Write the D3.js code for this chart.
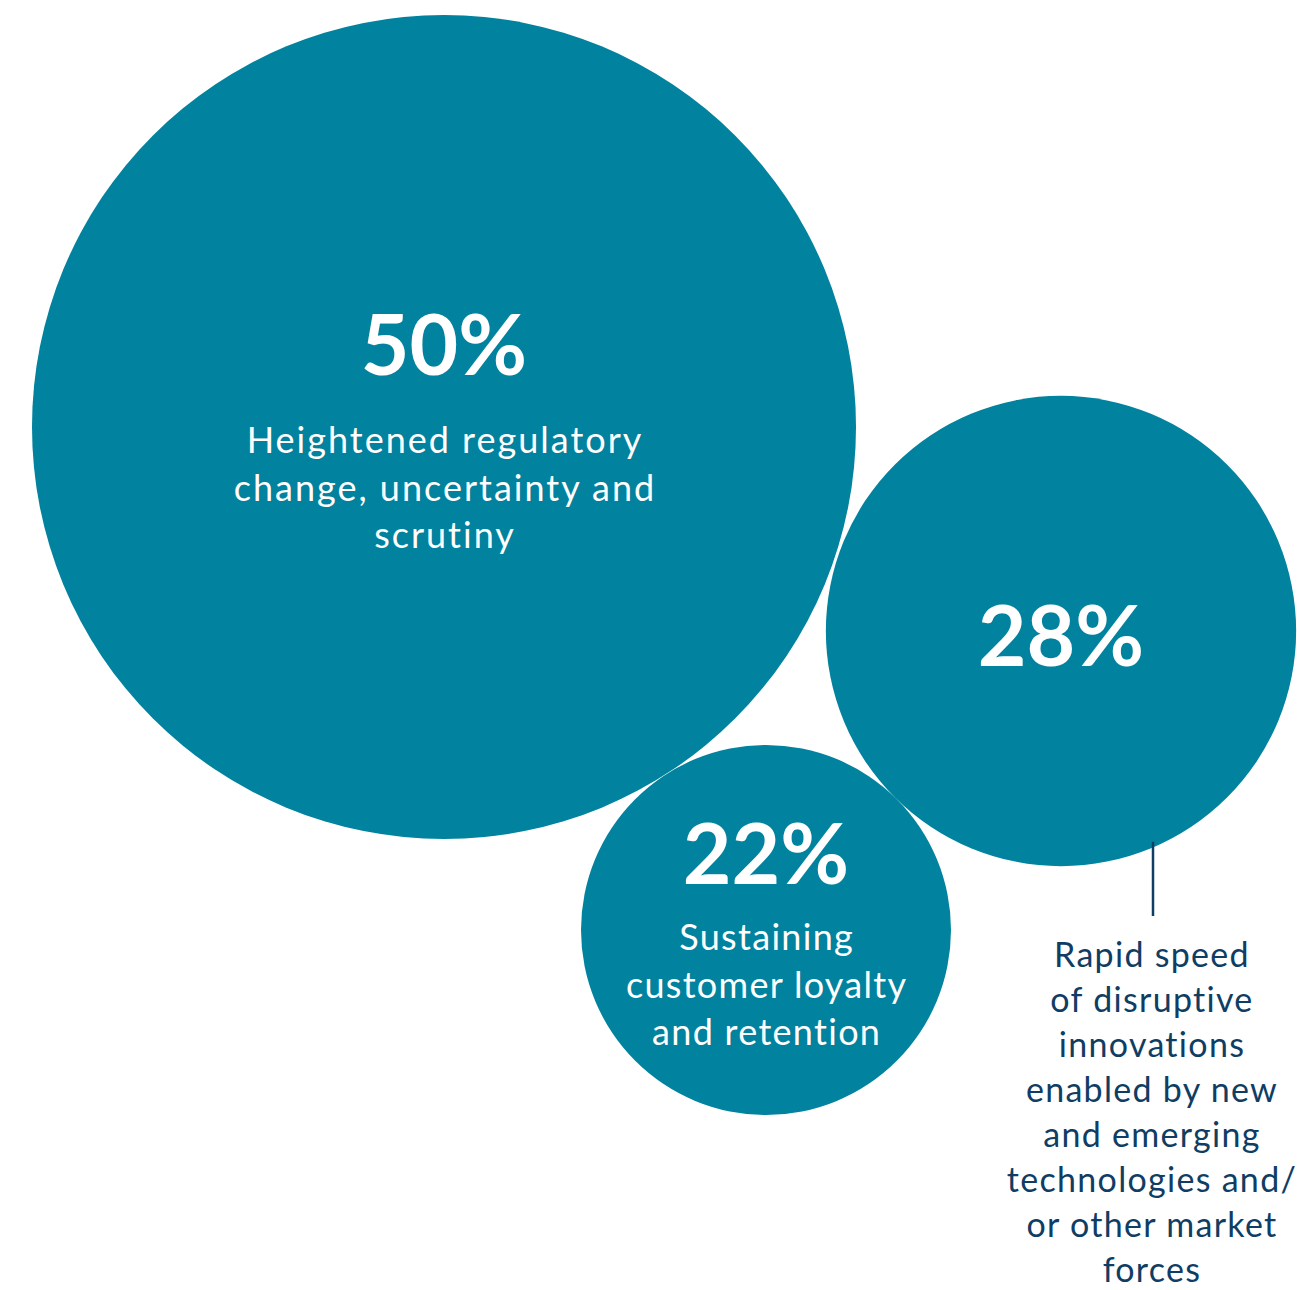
<!DOCTYPE html>
<html>
<head>
<meta charset="utf-8">
<script src="https://cdn.jsdelivr.net/npm/d3@7"></script>
<style>
  body { margin: 0; background: #fff; }
  svg { display: block; font-family: Lato, "Open Sans", sans-serif; font-variant-ligatures: none; }
</style>
</head>
<body>
<svg id="chart" width="1297" height="1290"></svg>
<script>
// data
const values = [50, 28, 22]
const pctLabels = ['50%', '28%', '22%']
const descriptions = [
	['Heightened regulatory', 'change, uncertainty and', 'scrutiny'],
	[],
	['Sustaining', 'customer loyalty', 'and retention']
]
const calloutLines = ['Rapid speed', 'of disruptive', 'innovations', 'enabled by new', 'and emerging', 'technologies and/', 'or other market', 'forces']

// layout
const centers = [[444, 427], [1061, 631], [766, 930]]
const teal = '#01829e'
const navy = '#0f3d63'

const svg = d3.select('#chart')

const rScale = d3.scaleLinear()
	.domain([22, 50])
	.range([185, 412])

const bubbles = svg.selectAll('.bubble')
	.data(values)
	.join('g')
	.attr('class', 'bubble')
	.attr('transform', (d, i) => `translate(${centers[i][0]}, ${centers[i][1]})`)

bubbles.append('circle')
	.attr('r', (d, i) => rScale(d) + (i == 1 ? 1.5 : 0))
	.attr('fill', teal)

// big percentage numbers
const pctY = [-52, 35, -46]
bubbles.append('text')
	.text((d, i) => pctLabels[i])
	.attr('y', (d, i) => pctY[i])
	.attr('text-anchor', 'middle')
	.attr('fill', 'white')
	.attr('font-weight', 700)
	.attr('font-size', 84)

// descriptions inside circles
const descY = [26, 0, 20]
const descSpacing = [2, 0, 1.3]
bubbles.each(function(d, i) {
	d3.select(this).selectAll('.desc')
		.data(descriptions[i])
		.join('text')
		.attr('class', 'desc')
		.text(t => t)
		.attr('x', descSpacing[i] / 2)
		.attr('y', (t, j) => descY[i] + j * 47.5)
		.attr('text-anchor', 'middle')
		.attr('fill', 'white')
		.attr('font-size', 36)
		.attr('letter-spacing', descSpacing[i])
})

// callout for the 28% bubble
const calloutX = 1153
const c = centers[1]
const edgeY = c[1] + Math.sqrt(rScale(28) ** 2 - (calloutX - c[0]) ** 2)

svg.append('line')
	.attr('x1', calloutX)
	.attr('x2', calloutX)
	.attr('y1', edgeY - 4)
	.attr('y2', 916)
	.attr('stroke', navy)
	.attr('stroke-width', 2.5)

svg.append('g')
	.selectAll('text')
	.data(calloutLines)
	.join('text')
	.text(d => d)
	.attr('x', 1152)
	.attr('y', (d, i) => 967 + i * 45)
	.attr('text-anchor', 'middle')
	.attr('fill', navy)
	.attr('font-size', 34)
	.attr('letter-spacing', 1.3)
</script>
</body>
</html>
